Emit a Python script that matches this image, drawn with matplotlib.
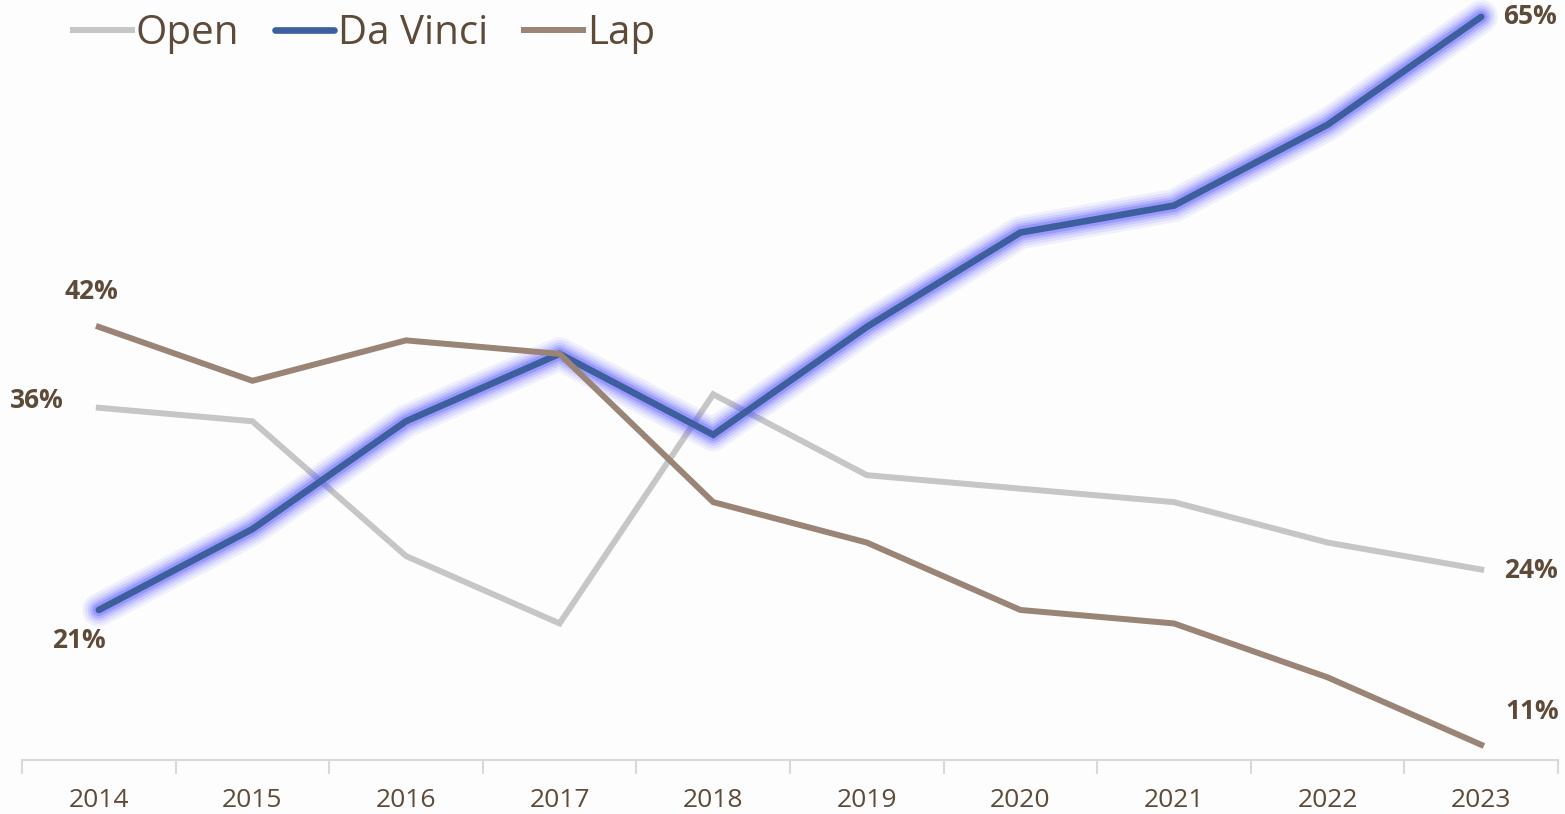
import matplotlib.pyplot as plt

years = ["2014", "2015", "2016", "2017", "2018", "2019", "2020", "2021", "2022", "2023"]
open_vals = [36, 35, 25, 20, 37, 31, 30, 29, 26, 24]
davinci_vals = [21, 27, 35, 40, 34, 42, 49, 51, 57, 65]
lap_vals = [42, 38, 41, 40, 29, 26, 21, 20, 16, 11]

text_color = "#5e4a38"
plt.rcParams['font.family'] = ['Open Sans', 'DejaVu Sans']

fig = plt.figure(figsize=(15.65, 8.14), dpi=100, facecolor="#fdfdfd")
ax = fig.add_axes([22 / 1565, 54 / 814, 1536 / 1565, 760 / 814])
ax.set_facecolor("#fdfdfd")

x = list(range(len(years)))

ax.plot(x, open_vals, color="#c6c6c6", lw=4.3, solid_joinstyle="miter", label="Open", zorder=2)

# glow under the Da Vinci line
for w, a in [(24, 0.08), (20, 0.11), (16, 0.15), (12.5, 0.2), (9, 0.3)]:
    ax.plot(x, davinci_vals, color="#5c5cff", lw=w, alpha=a, solid_capstyle="round",
            solid_joinstyle="round", zorder=3)
ax.plot(x, davinci_vals, color="#3e5f9e", lw=4.8, solid_capstyle="round",
        solid_joinstyle="miter", label="Da Vinci", zorder=4)

ax.plot(x, lap_vals, color="#9a8476", lw=4.3, solid_joinstyle="miter", label="Lap", zorder=5)

ax.set_xlim(-0.5, 9.5)
ax.set_ylim(9.87, 66.25)

for s in ["top", "right", "left"]:
    ax.spines[s].set_visible(False)
ax.spines["bottom"].set_color("#d9d9d9")
ax.spines["bottom"].set_linewidth(1.5)
ax.set_yticks([])

ax.set_xticks(x)
ax.set_xticklabels(years)
ax.tick_params(axis="x", which="major", length=0, pad=20, labelsize=19, labelcolor=text_color)
ax.set_xticks([i - 0.5 for i in range(len(years) + 1)], minor=True)
ax.tick_params(axis="x", which="minor", length=10, width=1.5, color="#d9d9d9")

lbl = dict(fontsize=19, fontweight="bold", color=text_color, textcoords="offset pixels",
           va="center", ha="center")
ax.annotate(f"{lap_vals[0]}%", (0, lap_vals[0]), xytext=(-7, 35), **lbl)
ax.annotate(f"{open_vals[0]}%", (0, open_vals[0]), xytext=(-62, 7), **lbl)
ax.annotate(f"{davinci_vals[0]}%", (0, davinci_vals[0]), xytext=(-20, -31), **lbl)
ax.annotate(f"{davinci_vals[-1]}%", (9, davinci_vals[-1]), xytext=(49, 0), **lbl)
ax.annotate(f"{open_vals[-1]}%", (9, open_vals[-1]), xytext=(50, -1), **lbl)
ax.annotate(f"{lap_vals[-1]}%", (9, lap_vals[-1]), xytext=(51, 33), **lbl)

fig.legend(loc="upper left", bbox_to_anchor=(37 / 1565, 1.028), ncol=3, frameon=False,
           fontsize=29, labelcolor=text_color, handlelength=1.45, handletextpad=0.1,
           columnspacing=0.9)

fig.savefig("out.png", dpi=100, facecolor=fig.get_facecolor())
